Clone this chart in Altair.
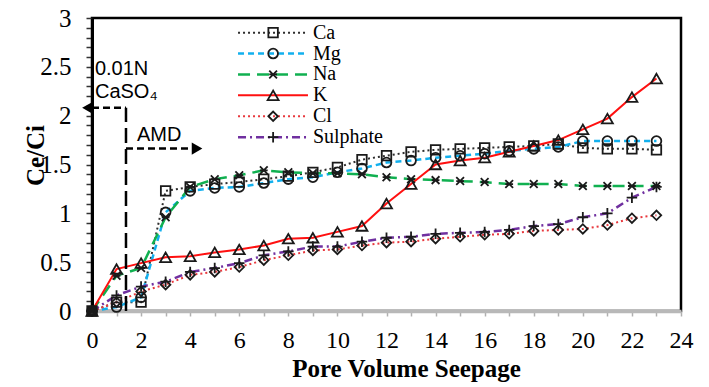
import altair as alt
import pandas as pd

# ---------------- data ----------------
pore_volume = list(range(24))
ca = [0, 0.09, 0.09, 1.23, 1.27, 1.30, 1.32, 1.35, 1.38, 1.42, 1.47, 1.55,
      1.59, 1.63, 1.65, 1.66, 1.67, 1.68, 1.69, 1.71, 1.67, 1.66, 1.66, 1.65]
mg = [0, 0.04, 0.14, 1.01, 1.23, 1.26, 1.27, 1.31, 1.35, 1.37, 1.42, 1.46,
      1.52, 1.54, 1.57, 1.59, 1.61, 1.64, 1.66, 1.68, 1.74, 1.74, 1.74, 1.74]
na = [0, 0.36, 0.44, 0.96, 1.27, 1.35, 1.39, 1.44, 1.42, 1.41, 1.41, 1.40,
      1.37, 1.35, 1.34, 1.33, 1.32, 1.30, 1.30, 1.30, 1.28, 1.28, 1.28, 1.28]
k = [0, 0.43, 0.49, 0.55, 0.56, 0.60, 0.63, 0.67, 0.74, 0.75, 0.81, 0.87,
     1.10, 1.30, 1.50, 1.54, 1.57, 1.63, 1.69, 1.75, 1.86, 1.97, 2.19, 2.38]
cl = [0, 0.09, 0.20, 0.27, 0.37, 0.40, 0.45, 0.52, 0.57, 0.62, 0.63, 0.67,
      0.70, 0.71, 0.74, 0.76, 0.78, 0.79, 0.82, 0.83, 0.84, 0.88, 0.95, 0.98]
sulphate = [0, 0.16, 0.25, 0.30, 0.40, 0.44, 0.49, 0.57, 0.61, 0.66, 0.66, 0.71,
            0.75, 0.76, 0.79, 0.80, 0.81, 0.83, 0.87, 0.89, 0.96, 1.00, 1.16, 1.27]

series_names = ["Ca", "Mg", "Na", "K", "Cl", "Sulphate"]
series_values = [ca, mg, na, k, cl, sulphate]

x_ticks = list(range(25))
y_ticks = [round(i * 0.1, 1) for i in range(31)]

SERIF = "Liberation Serif, Times New Roman, Times, serif"
SANS = "Liberation Sans, Arial, Helvetica, sans-serif"

# ---------------- styles ----------------
ASTERISK = "M-1,-1L1,1M-1,1L1,-1M-1,0L1,0"
PLUS = "M-1,0L1,0M0,-1L0,1"
styles = {
    "Ca": dict(color="#2e2e2e", dash=[2, 3], width=2, shape="square", size=90),
    "Mg": dict(color="#12b0ee", dash=[6, 4], width=2.5, shape="circle", size=95),
    "Na": dict(color="#10b050", dash=[12, 7], width=2.5, shape=ASTERISK, size=60),
    "K": dict(color="#ff1010", dash=None, width=2, shape="triangle-up", size=120),
    "Cl": dict(color="#e8383d", dash=[2, 3], width=2, shape="diamond", size=90),
    "Sulphate": dict(color="#7030a0", dash=[8, 4, 2, 4], width=2.5, shape=PLUS, size=110),
}

x_scale = alt.Scale(domain=[0, 24], nice=False, zero=False)
y_scale = alt.Scale(domain=[0, 3], nice=False, zero=False)

x_axis = alt.Axis(
    values=x_ticks,
    labelExpr="datum.value % 2 == 0 ? format(datum.value, 'd') : ''",
    labelFlush=False, labelOverlap=False,
    tickSize=5, tickColor="#b0b0b0", tickWidth=1.5,
    domainColor="#b8b8b8", domainWidth=3.5,
    labelFont=SERIF, labelFontSize=24, labelColor="black", labelPadding=12,
    title="Pore Volume Seepage", titleFont=SERIF, titleFontSize=25,
    titleFontWeight="bold", titleColor="black", titleX=314, titleY=65,
    titleBaseline="alphabetic", grid=False,
)
y_axis = alt.Axis(
    values=y_ticks,
    labelExpr="abs(datum.value * 2 - round(datum.value * 2)) < 0.001 ? format(datum.value, '~g') : ''",
    labelFlush=False, labelOverlap=False,
    tickSize=6, tickColor="#333333", tickWidth=1.5,
    domainColor="black", domainWidth=3,
    labelFont=SERIF, labelFontSize=25, labelColor="black", labelPadding=15,
    title="Ce/Ci", titleFont=SERIF, titleFontSize=25,
    titleFontWeight="bold", titleColor="black", titleX=-49, titleY=137,
    titleAngle=270, titleBaseline="alphabetic", grid=False,
)

X = alt.X("x:Q", scale=x_scale, axis=x_axis)
Y = alt.Y("y:Q", scale=y_scale, axis=y_axis)

layers = []

# ---------------- data series ----------------
for name, vals in zip(series_names, series_values):
    s = styles[name]
    df = pd.DataFrame({"x": pore_volume, "y": vals})
    line_kw = dict(color=s["color"], strokeWidth=s["width"])
    if s["dash"]:
        line_kw["strokeDash"] = s["dash"]
    layers.append(alt.Chart(df).mark_line(**line_kw).encode(x=X, y=Y))
for name, vals in zip(series_names, series_values):
    s = styles[name]
    df = pd.DataFrame({"x": pore_volume, "y": vals})
    layers.append(
        alt.Chart(df).mark_point(shape=s["shape"], size=s["size"], filled=False,
                                 stroke="#1a1a1a", strokeWidth=1.8, opacity=1)
        .encode(x=X, y=Y)
    )

# ---------------- legend (inside the plot) ----------------
leg_x0, leg_x1, leg_xm, leg_xt = 5.95, 8.80, 7.38, 9.0
leg_top, leg_step = 2.85, 0.214
for i, name in enumerate(series_names):
    s = styles[name]
    ly = leg_top - i * leg_step
    seg = pd.DataFrame({"x": [leg_x0], "x2": [leg_x1], "y": [ly]})
    rule_kw = dict(color=s["color"], strokeWidth=s["width"])
    if s["dash"]:
        rule_kw["strokeDash"] = s["dash"]
    layers.append(alt.Chart(seg).mark_rule(**rule_kw).encode(x=X, x2="x2:Q", y=Y))
    pt = pd.DataFrame({"x": [leg_xm], "y": [ly]})
    layers.append(
        alt.Chart(pt).mark_point(shape=s["shape"], size=s["size"], filled=False,
                                 stroke="#1a1a1a", strokeWidth=1.8, opacity=1)
        .encode(x=X, y=Y)
    )
    tx = pd.DataFrame({"x": [leg_xt], "y": [ly], "t": [name]})
    layers.append(
        alt.Chart(tx).mark_text(align="left", baseline="middle", font=SERIF,
                                fontSize=20, color="black")
        .encode(x=X, y=Y, text="t:N")
    )

# ---------------- annotations ----------------
switch_x = 1.385
arrow_y_left = 2.08
arrow_y_right = 1.663

dash_lines = pd.DataFrame({
    "x": [switch_x, 0.0, switch_x],
    "x2": [switch_x, switch_x, 4.0],
    "y": [0.0, arrow_y_left, arrow_y_right],
    "y2": [arrow_y_left, arrow_y_left, arrow_y_right],
    "kind": ["v", "h", "h"],
})
layers.append(
    alt.Chart(dash_lines[dash_lines.kind == "v"]).mark_rule(color="black", strokeWidth=2.5,
                                                            strokeDash=[15, 6])
    .encode(x=X, x2="x2:Q", y=Y, y2="y2:Q")
)
layers.append(
    alt.Chart(dash_lines[dash_lines.kind == "h"]).mark_rule(color="black", strokeWidth=2.5,
                                                            strokeDash=[7, 4])
    .encode(x=X, x2="x2:Q", y=Y, y2="y2:Q")
)
heads = pd.DataFrame({"x": [-0.2], "y": [arrow_y_left]})
layers.append(alt.Chart(heads).mark_point(shape="triangle-left", size=130, filled=True,
                                          color="black", opacity=1).encode(x=X, y=Y))
heads2 = pd.DataFrame({"x": [4.28], "y": [arrow_y_right]})
layers.append(alt.Chart(heads2).mark_point(shape="triangle-right", size=150, filled=True,
                                           color="black", opacity=1).encode(x=X, y=Y))

notes = pd.DataFrame({
    "x": [0.12, 0.12, 1.83],
    "y": [2.48, 2.245, 1.80],
    "t": ["0.01N", "CaSO₄", "AMD"],
})
layers.append(
    alt.Chart(notes).mark_text(align="left", baseline="middle", font=SANS,
                               fontSize=20, color="black")
    .encode(x=X, y=Y, text="t:N")
)

chart = alt.layer(*layers).properties(
    width=589, height=293,
    autosize=alt.AutoSizeParams(type="none"),
    padding={"left": 84, "top": 10, "right": 16, "bottom": 74},
).configure_view(stroke="black", strokeWidth=2.5)

chart.save("out.html", embed_options={"renderer": "svg", "actions": False})
